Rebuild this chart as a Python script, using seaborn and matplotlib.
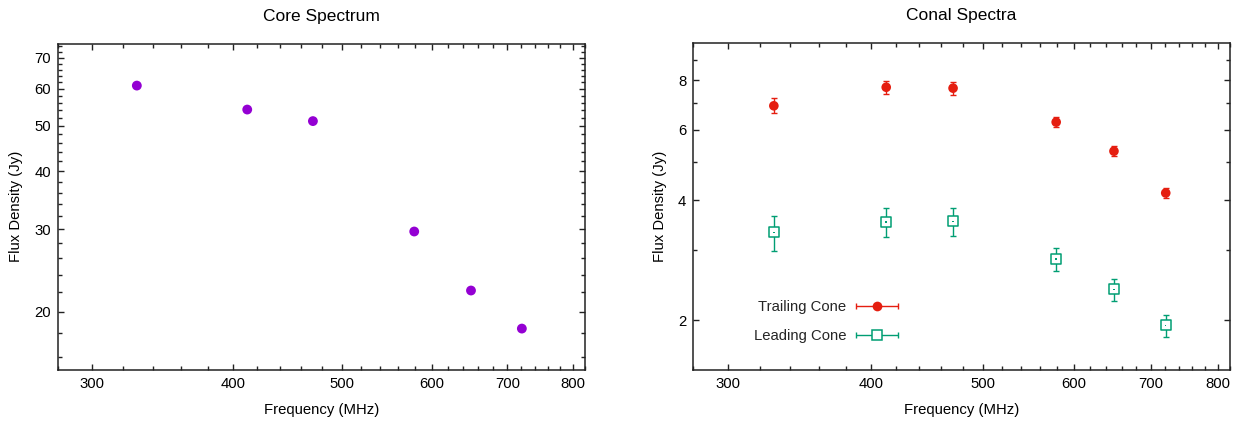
import numpy as np
import pandas as pd
import matplotlib
matplotlib.use("Agg")
import matplotlib.pyplot as plt
from matplotlib.lines import Line2D
from matplotlib.collections import LineCollection
from matplotlib.container import ErrorbarContainer
from matplotlib.legend_handler import HandlerErrorbar
from matplotlib.ticker import FixedLocator, NullFormatter
import seaborn as sns

# ---- data ----
freq_mhz = [329, 412, 471, 579, 650, 721]
core_flux = [61.0, 54.2, 51.2, 29.7, 22.2, 18.4]

trailing_flux = [6.90, 7.68, 7.64, 6.28, 5.31, 4.17]
trailing_err = [0.30, 0.29, 0.29, 0.19, 0.15, 0.12]
leading_flux = [3.32, 3.53, 3.54, 2.85, 2.39, 1.94]
leading_err = [0.33, 0.29, 0.29, 0.19, 0.15, 0.12]

x_major = [300, 400, 500, 600, 700, 800]
x_minor = [f for f in range(280, 821, 20) if f not in x_major]
core_y_major = [20, 30, 40, 50, 60, 70]
core_y_minor = [v for v in range(16, 75, 2) if v not in core_y_major]
conal_y_major = [2, 4, 6, 8]
conal_y_minor = [3, 5, 7, 9]

PURPLE = "#9400d3"
RED = "#e51e10"
GREEN = "#009e73"
FS = 10.7

sns.set_theme(style="ticks")
plt.rcParams["font.family"] = ["Liberation Sans", "DejaVu Sans"]
plt.rcParams["axes.linewidth"] = 1.1
plt.rcParams["axes.edgecolor"] = "#222222"

core_df = pd.DataFrame({"freq": freq_mhz, "flux": core_flux})
conal_df = pd.DataFrame({
    "freq": freq_mhz * 2,
    "flux": trailing_flux + leading_flux,
    "err": trailing_err + leading_err,
    "cone": ["Trailing Cone"] * len(freq_mhz) + ["Leading Cone"] * len(freq_mhz),
})

W, H = 1244, 422
fig = plt.figure(figsize=(W / 100, H / 100), dpi=100)
ax1 = fig.add_axes([57.7 / W, 52 / H, 527.3 / W, 326.3 / H])
ax2 = fig.add_axes([693.3 / W, 52 / H, 536.7 / W, 326.7 / H])


def style_axes(ax, ylim, y_major, y_minor, title):
    ax.set_xscale("log")
    ax.set_yscale("log")
    ax.set_xlim(280, 820)
    ax.set_ylim(*ylim)
    ax.xaxis.set_major_locator(FixedLocator(x_major))
    ax.xaxis.set_minor_locator(FixedLocator(x_minor))
    ax.set_xticklabels([str(v) for v in x_major])
    ax.xaxis.set_minor_formatter(NullFormatter())
    ax.yaxis.set_major_locator(FixedLocator(y_major))
    ax.yaxis.set_minor_locator(FixedLocator(y_minor))
    ax.set_yticklabels([str(v) for v in y_major])
    ax.yaxis.set_minor_formatter(NullFormatter())
    ax.tick_params(which="both", direction="in", top=True, right=True,
                   color="#222222", width=1.0, labelsize=FS, labelcolor="black")
    ax.tick_params(which="major", length=4.2, pad=5)
    ax.tick_params(which="minor", length=3.2)
    ax.set_xlabel("Frequency (MHz)", fontsize=FS, labelpad=8.5, color="black")
    ax.set_ylabel("Flux Density (Jy)", fontsize=FS, labelpad=8, color="black")
    ax.set_title(title, fontsize=12.5, pad=16.5, color="black")
    for s in ax.spines.values():
        s.set_visible(True)


# ---- core spectrum ----
sns.scatterplot(data=core_df, x="freq", y="flux", ax=ax1, color=PURPLE,
                s=50, edgecolor="none", linewidth=0, zorder=3)
style_axes(ax1, (15, 75), core_y_major, core_y_minor, "Core Spectrum")

# ---- conal spectra ----
trail = conal_df[conal_df["cone"] == "Trailing Cone"]
lead = conal_df[conal_df["cone"] == "Leading Cone"]

ax2.errorbar(trail["freq"], trail["flux"], yerr=trail["err"], fmt="none",
             ecolor=RED, elinewidth=1.0, capsize=2.4, capthick=1.0, zorder=2)
ax2.errorbar(lead["freq"], lead["flux"], yerr=lead["err"], fmt="none",
             ecolor=GREEN, elinewidth=1.0, capsize=2.4, capthick=1.0, zorder=2)
sns.scatterplot(data=trail, x="freq", y="flux", ax=ax2, color=RED, marker="o",
                s=48, edgecolor="none", linewidth=0, zorder=3)
sns.scatterplot(data=lead, x="freq", y="flux", ax=ax2, marker="s",
                s=52, facecolor="white", edgecolor=GREEN, linewidth=1.1, zorder=3)
sns.scatterplot(data=lead, x="freq", y="flux", ax=ax2, marker="s",
                s=1.2, color=GREEN, edgecolor="none", linewidth=0, zorder=4)
style_axes(ax2, (1.5, 9.9), conal_y_major, conal_y_minor, "Conal Spectra")


def legend_proxy(color, marker, face, label):
    data_line = Line2D([], [], color=color, marker=marker,
                       markersize=7 if marker == "o" else 7.2,
                       markerfacecolor=face, markeredgecolor=color,
                       markeredgewidth=0 if marker == "o" else 1.1, linestyle="None")
    cap = Line2D([], [], color=color, marker="|", markersize=4.5,
                 markeredgewidth=1.0, linestyle="None")
    bars = LineCollection([], colors=color, linewidths=1.0)
    return ErrorbarContainer((data_line, (cap, cap), (bars,)), has_xerr=True,
                             has_yerr=False, label=label)


handles = [legend_proxy(RED, "o", RED, "Trailing Cone"),
           legend_proxy(GREEN, "s", "white", "Leading Cone")]
ax2.legend(handles=handles, labels=["Trailing Cone", "Leading Cone"],
           handler_map={ErrorbarContainer: HandlerErrorbar(xerr_size=1.4)},
           loc="upper left", bbox_to_anchor=(0.113, 0.2137), frameon=False,
           markerfirst=False, numpoints=1, handlelength=2.8, handletextpad=0.67,
           labelspacing=1.0, borderpad=0, borderaxespad=0, fontsize=FS)

fig.savefig("out.png", dpi=100)
